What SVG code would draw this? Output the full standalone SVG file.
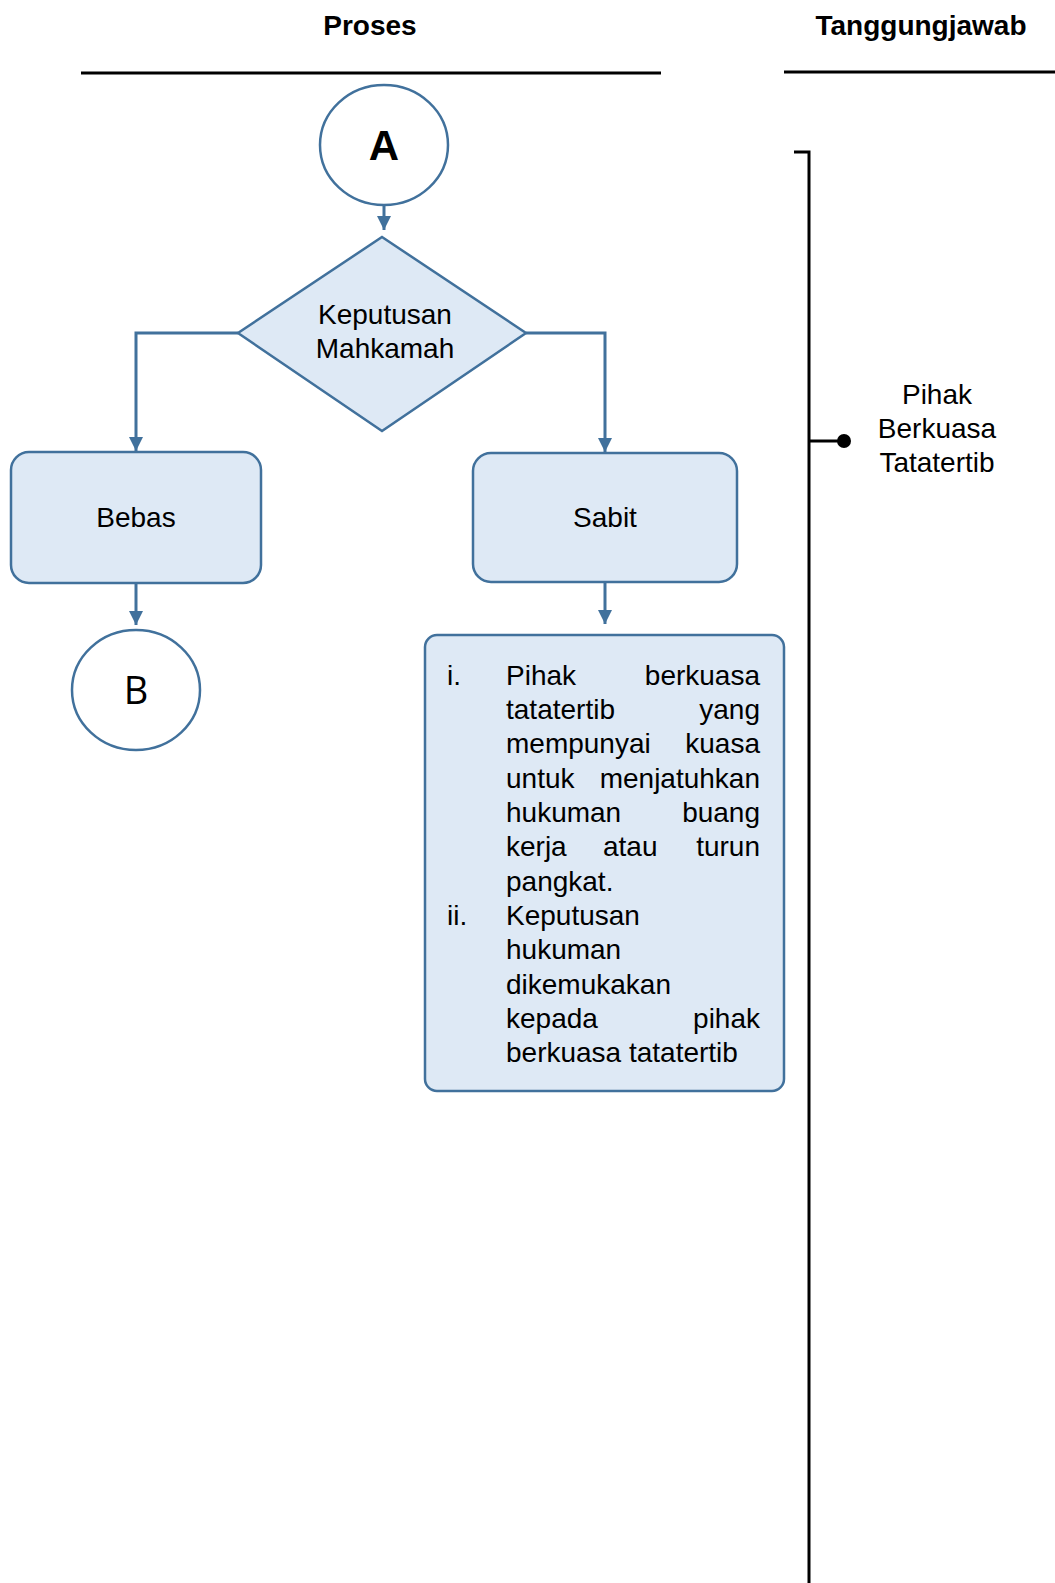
<svg xmlns="http://www.w3.org/2000/svg" width="1055" height="1583" viewBox="0 0 1055 1583">
<defs>
<style>
.hdr{font-family:"Liberation Sans",Arial,sans-serif;font-weight:bold;font-size:28px;fill:#000;text-anchor:middle}
.t{font-family:"Liberation Sans",Arial,sans-serif;font-size:28px;fill:#000}
.c{text-anchor:middle}
.e{text-anchor:end}
.node{fill:#DEE9F5;stroke:#41719C;stroke-width:2.5}
.circ{fill:#fff;stroke:#41719C;stroke-width:2.5}
.conn{fill:none;stroke:#41719C;stroke-width:3;marker-end:url(#ah)}
.blk{fill:none;stroke:#000;stroke-width:3}
</style>
<marker id="ah" markerUnits="userSpaceOnUse" markerWidth="14" markerHeight="14" viewBox="0 0 14 14" refX="14" refY="7" orient="auto">
<path d="M0,0 L14,7 L0,14 z" fill="#41719C"/>
</marker>
</defs>
<g id="headers">
<text class="hdr" x="370" y="35">Proses</text>
<text class="hdr" x="921" y="35">Tanggungjawab</text>
<line class="blk" x1="81" y1="73" x2="661" y2="73"/>
<line class="blk" x1="784" y1="72" x2="1055" y2="72"/>
</g>
<g id="connectors">
<path class="conn" d="M384,205 L384,230"/>
<path class="conn" d="M238,333 L136,333 L136,451"/>
<path class="conn" d="M526,333 L605,333 L605,452"/>
<path class="conn" d="M136,583 L136,625"/>
<path class="conn" d="M605,582 L605,624"/>
</g>
<g id="nodeA">
<ellipse class="circ" cx="384" cy="145" rx="64" ry="60"/>
<text x="384" y="160" style="font-family:'Liberation Sans',Arial,sans-serif;font-weight:bold;font-size:42px;text-anchor:middle">A</text>
</g>
<g id="decision">
<polygon class="node" points="382,237 526,333 382,431 238,333"/>
<text class="t c" x="385" y="324">Keputusan</text>
<text class="t c" x="385" y="358">Mahkamah</text>
</g>
<g id="bebas">
<rect class="node" x="11" y="452" width="250" height="131" rx="18"/>
<text class="t c" x="136" y="527">Bebas</text>
</g>
<g id="sabit">
<rect class="node" x="473" y="453" width="264" height="129" rx="18"/>
<text class="t c" x="605" y="527">Sabit</text>
</g>
<g id="nodeB">
<ellipse class="circ" cx="136" cy="690" rx="64" ry="60"/>
<text x="136" y="704" style="font-family:'Open Sans','Noto Sans',sans-serif;font-size:38px;text-anchor:middle">B</text>
</g>
<g id="list">
<rect class="node" x="425" y="635" width="359" height="456" rx="12"/>
<text class="t" x="447" y="685">i.</text>
<text class="t" x="506" y="685">Pihak</text>
<text class="t e" x="760" y="685">berkuasa</text>
<text class="t" x="506" y="719">tatatertib</text>
<text class="t e" x="760" y="719">yang</text>
<text class="t" x="506" y="753">mempunyai</text>
<text class="t e" x="760" y="753">kuasa</text>
<text class="t" x="506" y="788">untuk</text>
<text class="t e" x="760" y="788">menjatuhkan</text>
<text class="t" x="506" y="822">hukuman</text>
<text class="t e" x="760" y="822">buang</text>
<text class="t" x="506" y="856">kerja</text>
<text class="t" x="603" y="856">atau</text>
<text class="t e" x="760" y="856">turun</text>
<text class="t" x="506" y="891">pangkat.</text>
<text class="t" x="447" y="925">ii.</text>
<text class="t" x="506" y="925">Keputusan</text>
<text class="t" x="506" y="959">hukuman</text>
<text class="t" x="506" y="994">dikemukakan</text>
<text class="t" x="506" y="1028">kepada</text>
<text class="t e" x="760" y="1028">pihak</text>
<text class="t" x="506" y="1062">berkuasa tatatertib</text>
</g>
<g id="responsibility">
<path class="blk" d="M794,152 L809,152 L809,1583"/>
<line class="blk" x1="809" y1="441" x2="844" y2="441"/>
<circle cx="844" cy="441" r="7" fill="#000"/>
<text class="t c" x="937" y="404">Pihak</text>
<text class="t c" x="937" y="438">Berkuasa</text>
<text class="t c" x="937" y="472">Tatatertib</text>
</g>
</svg>
